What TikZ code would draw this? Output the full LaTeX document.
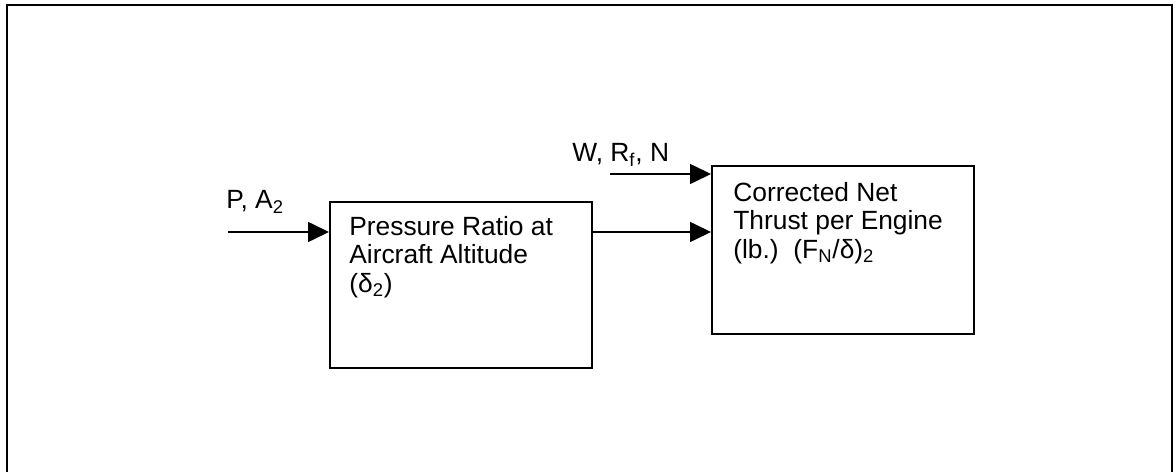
\documentclass[tikz,border=0pt]{standalone}
\usepackage{fontspec}
\setmainfont{Liberation Sans}
\usetikzlibrary{arrows.meta, positioning}

\begin{document}
\begin{tikzpicture}[
    x=0.02cm, y=-0.02cm,
    >={Triangle[length=0.42cm, width=0.4cm]},
    block/.style={draw, line width=1.2pt, minimum width=5.24cm,
                  minimum height=3.32cm, anchor=north west, inner sep=0pt},
    blocktext/.style={align=left, inner sep=0pt,
                      font=\fontsize{15pt}{16.2pt}\selectfont},
    inlabel/.style={inner sep=0pt, anchor=base west,
                    font=\fontsize{15pt}{16.2pt}\selectfont},
    flow/.style={->, line width=0.9pt}
  ]
  \useasboundingbox (0,0) rectangle (1175,472);

  % Outer frame
  \draw[line width=1.4pt] (7,478) |- (1172,5) -- (1172,478);

  % Blocks
  \node[block] (pbox) at (329,201) {};
  \node[block, minimum height=3.36cm] (tbox) at (711,165) {};

  % Block texts
  \node[blocktext, below right=0.30cm and 0.40cm of pbox.north west] (ptext)
    {Pressure Ratio at\\ Aircraft Altitude\\ (δ\textsubscript{2})};
  \node[blocktext, below right=0.34cm and 0.44cm of tbox.north west] (ttext)
    {Corrected Net\\ Thrust per Engine\\ (lb.)\ \ (F\textsubscript{N}/δ)\textsubscript{2}};

  % Inputs
  \coordinate (pin) at (228,232);
  \coordinate (win) at (610,174);
  \node[inlabel] (plabel) at (226,209) {P, A\textsubscript{2}};
  \node[inlabel] (wlabel) at (572,162) {W, R\textsubscript{f}, N};

  % Connections
  \draw[flow] (pin) -- (pin -| pbox.west);
  \draw[flow] (pin -| pbox.east) -- (pin -| tbox.west);
  \draw[flow] (win) -- (win -| tbox.west);
\end{tikzpicture}
\end{document}
